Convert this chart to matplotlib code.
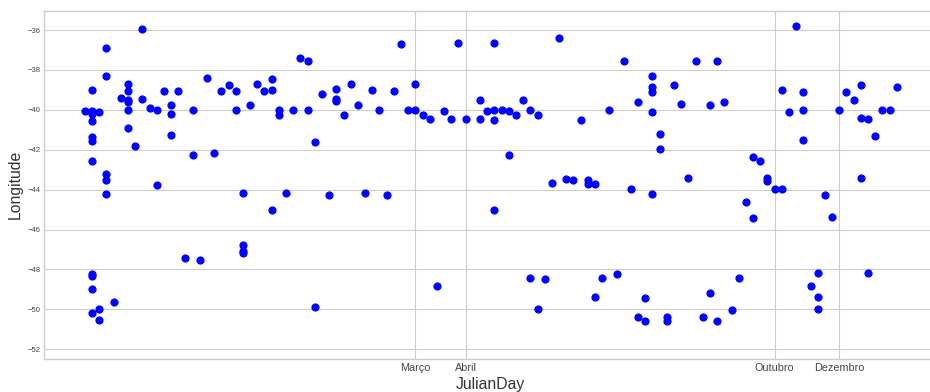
import matplotlib
matplotlib.use("Agg")
import matplotlib.pyplot as plt

# day index of each observation and its longitude
julian_day = [
    0,
    1, 1, 1, 1, 1, 1, 1, 1, 1, 1, 1,
    2, 2, 2,
    3, 3, 3, 3, 3,
    4, 5,
    6, 6, 6, 6, 6, 6,
    7, 8, 8, 9, 10, 10, 11,
    12, 12, 12,
    13, 14, 15, 15, 16, 17, 18, 19, 20, 21, 21,
    22, 22, 22, 22,
    23, 24, 25, 26, 26, 26, 27, 27, 28, 29, 30, 31, 31, 32, 32, 33, 34,
    35, 35, 35,
    36, 37, 38, 39, 40, 41, 42, 43, 44, 45, 46, 46, 47, 48, 49, 50, 51, 52, 53,
    55, 55, 56, 57, 57, 57, 57, 58, 59, 59, 60, 61, 62, 62, 63, 63, 64,
    65, 66, 67, 68, 69, 70, 70, 71, 71, 72, 73, 74, 75, 76, 77, 77, 78, 78,
    79, 79, 79, 79, 79,
    80, 80, 81, 81, 82, 83, 84, 85, 86, 87, 87, 88, 88, 89, 90, 91, 92,
    93, 93, 94, 95, 95, 96, 97, 97, 98, 99, 100, 100, 100, 101,
    102, 102, 102, 103, 104, 105, 106, 107, 108, 108, 108, 109, 109,
    110, 111, 112, 113,
]
longitude = [
    -40.08,
    -39.03, -40.08, -40.20, -40.55, -41.35, -41.55, -42.56, -48.23, -48.33, -48.99, -50.16,
    -40.10, -50.00, -50.53,
    -36.92, -38.29, -43.20, -43.52, -44.20,
    -49.65, -39.43,
    -38.70, -39.07, -39.50, -39.60, -39.99, -40.91,
    -41.80, -35.93, -39.45, -39.92, -39.99, -43.79, -39.07,
    -39.76, -40.19, -41.25,
    -39.07, -47.44, -39.99, -42.27, -47.52, -38.42, -42.16, -39.07, -38.74, -39.07, -39.99,
    -44.18, -46.79, -47.08, -47.20,
    -39.75, -38.70, -39.07, -38.46, -39.02, -45.02, -39.99, -40.24, -44.18, -39.99, -37.42,
    -37.55, -39.99, -41.60, -49.89, -39.19, -44.26,
    -38.96, -39.48, -39.56,
    -40.25, -38.68, -39.76, -44.18, -39.03, -39.99, -44.26, -39.08, -36.70, -39.99, -38.70,
    -39.99, -40.24, -40.44, -48.84, -40.04, -40.44, -36.65, -40.44,
    -39.50, -40.46, -40.07, -36.65, -39.99, -40.52, -45.02, -39.99, -40.08, -42.25, -40.27,
    -39.50, -39.99, -48.43, -40.24, -49.96, -48.50,
    -43.67, -36.38, -43.47, -43.50, -40.49, -43.52, -43.70, -43.70, -49.39, -48.44, -40.00,
    -48.21, -37.55, -43.98, -39.61, -50.36, -49.41, -50.58,
    -38.29, -38.86, -39.09, -40.09, -44.23,
    -41.21, -41.98, -50.36, -50.58, -38.77, -39.72, -43.41, -37.55, -50.36, -39.77, -49.16,
    -37.55, -50.58, -39.61, -50.01, -48.44, -44.63,
    -42.38, -45.44, -42.55, -43.43, -43.55, -43.98, -39.01, -43.98, -40.09, -35.80, -39.09,
    -40.00, -41.50, -48.81,
    -48.16, -49.36, -49.98, -44.27, -45.35, -40.00, -39.09, -39.49, -38.77, -40.41, -43.41,
    -40.45, -48.16,
    -41.33, -40.00, -40.00, -38.86,
]

month_ticks = [46, 53, 96, 105]
month_labels = ["Março", "Abril", "Outubro", "Dezembro"]
lon_ticks = [-52, -50, -48, -46, -44, -42, -40, -38, -36]

plt.style.use("seaborn-v0_8-whitegrid")
plt.rcParams["font.family"] = ["Liberation Sans", "DejaVu Sans"]

fig = plt.figure(figsize=(9.3, 3.92), dpi=100)
ax = fig.add_axes([0.0476, 0.0842, 0.9603, 0.8885])

ax.scatter(julian_day, longitude, color="blue", s=24, zorder=3)

ax.set_ylim(-52.49, -35.03)
ax.set_yticks(lon_ticks)
ax.set_xticks(month_ticks)
ax.set_xticklabels(month_labels)
ax.tick_params(axis="y", labelsize=5.5, pad=2.5, colors="#444444")
ax.tick_params(axis="x", labelsize=7.8, pad=3, colors="#444444")

ax.set_xlabel("JulianDay", fontsize=11.3, color="#333333", labelpad=3)
ax.set_ylabel("Longitude", fontsize=11.3, color="#333333", labelpad=3.5)

fig.savefig("out.png", dpi=100)
